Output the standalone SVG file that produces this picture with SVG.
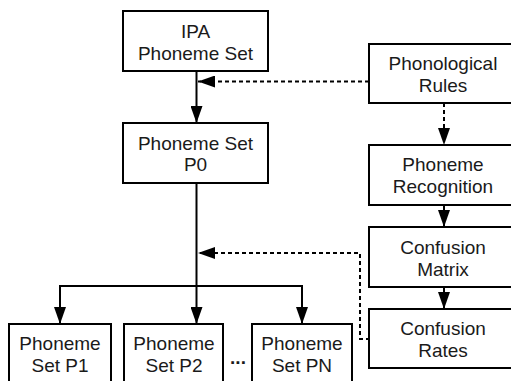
<svg xmlns="http://www.w3.org/2000/svg" width="511" height="381" viewBox="0 0 511 381">
  <style>
    .box { fill: #ffffff; stroke: #000000; stroke-width: 2; }
    .lbl { font-family: "Liberation Sans", Arial, sans-serif; font-size: 19px; fill: #1a1a1a; text-anchor: middle; }
    .solid { fill: none; stroke: #000000; stroke-width: 2; }
    .dash { fill: none; stroke: #000000; stroke-width: 2; stroke-dasharray: 4 3; }
    .dots { font-family: "Liberation Sans", Arial, sans-serif; font-size: 19px; font-weight: bold; fill: #1a1a1a; text-anchor: middle; }
  </style>
  <defs>
    <marker id="head" markerUnits="userSpaceOnUse" markerWidth="17" markerHeight="12" refX="17" refY="6" orient="auto">
      <path d="M0,0 L17,6 L0,12 z" fill="#000000"/>
    </marker>
  </defs>
  <rect width="511" height="381" fill="#ffffff"/>

  <g id="connectors">
    <!-- IPA set down to P0 -->
    <path class="solid" d="M196.5,71 V123" marker-end="url(#head)"/>
    <!-- phonological rules feed into the IPA-to-P0 step -->
    <path class="dash" d="M369,81.5 H198" marker-end="url(#head)"/>
    <!-- right column chain -->
    <path class="dash" d="M444,103 V145" marker-end="url(#head)"/>
    <path class="solid" d="M444,205 V227" marker-end="url(#head)"/>
    <path class="solid" d="M444,287 V309" marker-end="url(#head)"/>
    <!-- confusion rates feed back into the split -->
    <path class="dash" d="M370,339 H360 V253 H198"  marker-end="url(#head)"/>
    <!-- P0 split into derived sets -->
    <path class="solid" d="M196.5,183 V324" marker-end="url(#head)"/>
    <path class="solid" d="M60,324 V286 H302 V324" marker-start="none"/>
    <path class="solid" d="M60,300 V324" marker-end="url(#head)"/>
    <path class="solid" d="M302,300 V324" marker-end="url(#head)"/>
  </g>

  <g id="ipa-set">
    <rect class="box" x="123" y="11" width="145" height="60"/>
    <text class="lbl" x="195.5" y="38">IPA</text>
    <text class="lbl" x="195.5" y="59.5">Phoneme Set</text>
  </g>

  <g id="set-p0">
    <rect class="box" x="123" y="123" width="145" height="60"/>
    <text class="lbl" x="195.5" y="149.5">Phoneme Set</text>
    <text class="lbl" x="195.5" y="171">P0</text>
  </g>

  <g id="phonological-rules">
    <rect class="box" x="369" y="44" width="150" height="59"/>
    <text class="lbl" x="443" y="70">Phonological</text>
    <text class="lbl" x="443" y="91.5">Rules</text>
  </g>

  <g id="phoneme-recognition">
    <rect class="box" x="369" y="145" width="150" height="60"/>
    <text class="lbl" x="443" y="171">Phoneme</text>
    <text class="lbl" x="443" y="193">Recognition</text>
  </g>

  <g id="confusion-matrix">
    <rect class="box" x="369" y="227" width="150" height="60"/>
    <text class="lbl" x="443" y="254">Confusion</text>
    <text class="lbl" x="443" y="275.5">Matrix</text>
  </g>

  <g id="confusion-rates">
    <rect class="box" x="369" y="309" width="150" height="59"/>
    <text class="lbl" x="443" y="335">Confusion</text>
    <text class="lbl" x="443" y="356.5">Rates</text>
  </g>

  <g id="set-p1">
    <rect class="box" x="9" y="324" width="102" height="70"/>
    <text class="lbl" x="60" y="350">Phoneme</text>
    <text class="lbl" x="60" y="371.5">Set P1</text>
  </g>

  <g id="set-p2">
    <rect class="box" x="124" y="324" width="99" height="70"/>
    <text class="lbl" x="174" y="350">Phoneme</text>
    <text class="lbl" x="174" y="371.5">Set P2</text>
  </g>

  <text class="dots" x="238" y="364">...</text>

  <g id="set-pn">
    <rect class="box" x="252" y="324" width="100" height="70"/>
    <text class="lbl" x="302" y="350">Phoneme</text>
    <text class="lbl" x="302" y="371.5">Set PN</text>
  </g>
</svg>
